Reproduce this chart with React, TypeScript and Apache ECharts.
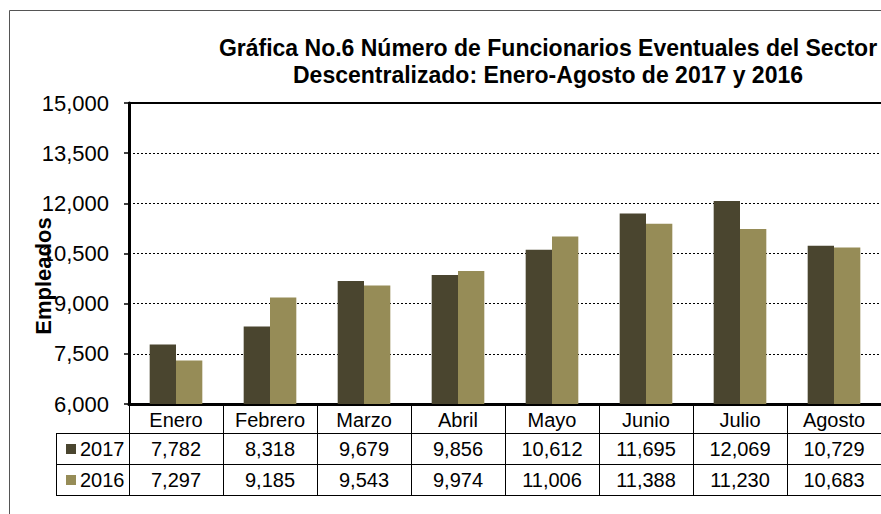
import React, { useEffect, useRef } from "react";
import * as echarts from "echarts";

const months = ["Enero", "Febrero", "Marzo", "Abril", "Mayo", "Junio", "Julio", "Agosto"];
const values2017 = [7782, 8318, 9679, 9856, 10612, 11695, 12069, 10729];
const values2016 = [7297, 9185, 9543, 9974, 11006, 11388, 11230, 10683];
const seriesNames = ["2017", "2016"];
const titleText = "Gráfica No.6 Número de Funcionarios Eventuales del Sector\nDescentralizado: Enero-Agosto de 2017 y 2016";
const yAxisTitle = "Empleados";

const fmt = (v: number) => v.toLocaleString("en-US");
const FONT = "Liberation Sans, Arial, sans-serif";
const C2017 = "#4A452F";
const C2016 = "#968C57";

export default function App() {
  const ref = useRef<HTMLDivElement>(null);
  useEffect(() => {
    document.body.style.margin = "0";
    const chart = echarts.init(ref.current!, undefined, { renderer: "svg" });
    const rowAxis = (data: string[], offset: number, tickLen: number, showLabel: boolean, showTick: boolean) => ({
      type: "category",
      gridIndex: 0,
      position: "bottom",
      offset,
      data,
      axisLine: { show: true, lineStyle: { color: "#000", width: 1 } },
      axisTick: { show: showTick, interval: 0, length: tickLen, lineStyle: { color: "#000", width: 1 } },
      axisLabel: { show: showLabel, interval: 0, margin: 6, fontSize: 20, color: "#000", fontFamily: FONT },
      splitLine: { show: false },
    });
    chart.setOption({
      animation: false,
      backgroundColor: "#fff",
      textStyle: { fontFamily: FONT },
      title: {
        text: titleText,
        left: 543,
        top: 29,
        textAlign: "center",
        textStyle: { fontSize: 23, fontWeight: "bold", color: "#000", lineHeight: 27, fontFamily: FONT },
      },
      legend: {
        data: seriesNames,
        orient: "vertical",
        left: 61,
        top: 434,
        itemWidth: 10,
        itemHeight: 10,
        itemGap: 11,
        icon: "rect",
        textStyle: { fontSize: 20, color: "#000", fontFamily: FONT, padding: [0, 0, 0, -1] },
      },
      grid: { left: 129, top: 103, width: 762, height: 301 },
      xAxis: [
        {
          type: "category",
          position: "bottom",
          data: months,
          axisLine: { show: true, lineStyle: { color: "#000", width: 3 } },
          axisTick: { show: true, interval: 0, length: 29, lineStyle: { color: "#000", width: 1 } },
          axisLabel: { interval: 0, margin: 6, fontSize: 20, color: "#000", fontFamily: FONT },
        },
        rowAxis(values2017.map(fmt), 29, 31, true, true),
        rowAxis(values2016.map(fmt), 60, 31, true, true),
        rowAxis(months, 91, 0, false, false),
        {
          type: "category",
          position: "top",
          data: months,
          axisLine: { show: true, lineStyle: { color: "#000", width: 2 } },
          axisTick: { show: false },
          axisLabel: { show: false },
        },
      ],
      yAxis: {
        type: "value",
        min: 6000,
        max: 15000,
        interval: 1500,
        axisLine: { show: true, lineStyle: { color: "#000", width: 3 } },
        axisTick: { show: true, length: 5, lineStyle: { color: "#000", width: 1.5 } },
        axisLabel: { formatter: (v: number) => fmt(v), fontSize: 22, color: "#000", margin: 20, fontFamily: FONT },
        splitLine: { show: true, lineStyle: { color: "#000", width: 1, type: [2, 2] } },
      },
      series: [
        {
          name: seriesNames[0],
          type: "bar",
          xAxisIndex: 0,
          data: values2017,
          barGap: "0%",
          barCategoryGap: "44%",
          itemStyle: { color: C2017 },
        },
        {
          name: seriesNames[1],
          type: "bar",
          xAxisIndex: 0,
          data: values2016,
          itemStyle: { color: C2016 },
        },
      ],
      graphic: [
        {
          type: "rect",
          shape: { x: 9.5, y: 10.5, width: 1000, height: 700 },
          style: { fill: "none", stroke: "#555", lineWidth: 1 },
          silent: true,
          z: -1,
        },
        {
          type: "text",
          x: 43,
          y: 276,
          rotation: Math.PI / 2,
          style: {
            text: yAxisTitle,
            font: `bold 22px ${FONT}`,
            fill: "#000",
            textAlign: "center",
            textVerticalAlign: "middle",
          },
        },
        { type: "line", shape: { x1: 56.5, y1: 433.5, x2: 56.5, y2: 495.5 }, style: { stroke: "#000", lineWidth: 1 } },
        { type: "line", shape: { x1: 56, y1: 433.5, x2: 129, y2: 433.5 }, style: { stroke: "#000", lineWidth: 1 } },
        { type: "line", shape: { x1: 56, y1: 464.5, x2: 129, y2: 464.5 }, style: { stroke: "#000", lineWidth: 1 } },
        { type: "line", shape: { x1: 56, y1: 495.5, x2: 129, y2: 495.5 }, style: { stroke: "#000", lineWidth: 1 } },
      ],
    });
    return () => chart.dispose();
  }, []);
  return <div ref={ref} style={{ width: 881, height: 514 }} />;
}
